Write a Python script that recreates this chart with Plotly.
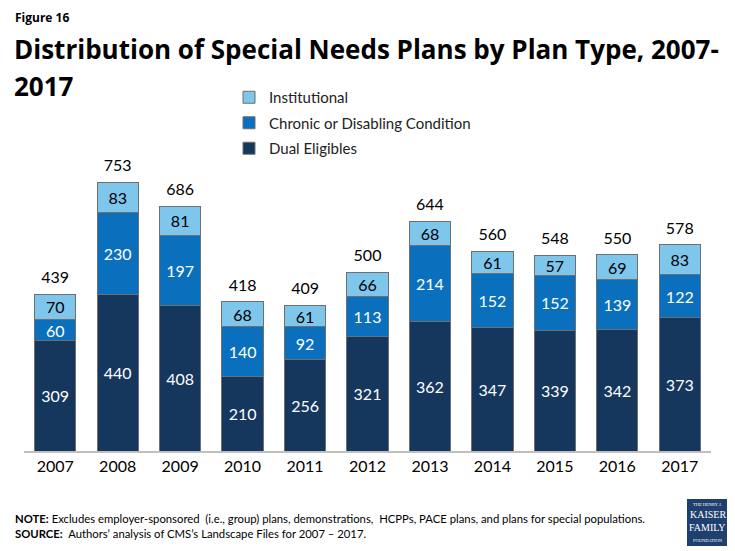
import plotly.graph_objects as go

years = ["2007", "2008", "2009", "2010", "2011", "2012", "2013", "2014", "2015", "2016", "2017"]
dual = [309, 440, 408, 210, 256, 321, 362, 347, 339, 342, 373]
chronic = [60, 230, 197, 140, 92, 113, 214, 152, 152, 139, 122]
institutional = [70, 83, 81, 68, 61, 66, 68, 61, 57, 69, 83]
totals = [439, 753, 686, 418, 409, 500, 644, 560, 548, 550, 578]

FONT = "Lato"
TFONT = "Open Sans"
c_dual = "#15365d"
c_chronic = "#0a70bd"
c_inst = "#7fc6ec"
outline = dict(color="#6f6f6f", width=1)

# page body adds an 8px offset; figure is sized to fit the window
OFF = 8
W, H = 735 - OFF, 551 - OFF
L, R, T, B = 16, 24, 132, 100
PW = W - L - R
PH = H - T - B


def px(x):  # screen pixel -> paper x
    return (x - OFF - L) / PW


def py(y):  # screen pixel -> paper y
    return (H - B - (y - OFF)) / PH


fig = go.Figure()
series = [
    ("Dual Eligibles", dual, c_dual, "white", 3),
    ("Chronic or Disabling Condition", chronic, c_chronic, "white", 2),
    ("Institutional", institutional, c_inst, "black", 1),
]
for i, (name, vals, col, tcol, rank) in enumerate(series):
    fig.add_trace(go.Bar(
        x=years, y=vals, name=name, legendgroup=f"g{i}", legendrank=rank,
        marker=dict(color=col, line=outline),
        text=[str(v) for v in vals], textposition="inside",
        insidetextanchor="middle", textangle=0,
        textfont=dict(family=FONT, size=16, color=tcol),
        hoverinfo="skip",
    ))

fig.add_trace(go.Scatter(
    x=years, y=totals, mode="markers+text", text=[str(t) for t in totals],
    marker=dict(size=10, color="rgba(0,0,0,0)"),
    textposition="top center", textfont=dict(family=FONT, size=16, color="black"),
    showlegend=False, hoverinfo="skip", cliponaxis=False,
))

fig.update_layout(
    width=W, height=H,
    barmode="stack", bargap=0.34,
    uniformtext=dict(minsize=16, mode="show"),
    plot_bgcolor="white", paper_bgcolor="white",
    margin=dict(l=L, r=R, t=T, b=B),
    showlegend=True,
    legend=dict(x=px(229), y=py(81), xanchor="left", yanchor="top",
                traceorder="grouped", tracegroupgap=3,
                font=dict(family=FONT, size=15, color="#222222"),
                itemwidth=30, bgcolor="rgba(0,0,0,0)"),
    xaxis=dict(type="category", range=[-0.5, len(years) - 0.5],
               showline=True, linecolor="#bfbfbf", linewidth=1.5, ticks="",
               tickfont=dict(family=FONT, size=16, color="black"),
               fixedrange=True),
    yaxis=dict(range=[0, 872], visible=False, showgrid=False, fixedrange=True),
)

# Titles
fig.add_annotation(xref="paper", yref="paper", x=px(13), y=py(18),
                   xanchor="left", yanchor="middle", showarrow=False,
                   text="<b>Figure 16</b>", font=dict(family=TFONT, size=12, color="black"))
fig.add_annotation(xref="paper", yref="paper", x=px(12), y=py(49),
                   xanchor="left", yanchor="middle", showarrow=False, align="left",
                   text="<b>Distribution of Special Needs Plans by Plan Type, 2007-</b>",
                   font=dict(family=TFONT, size=26, color="black"))
fig.add_annotation(xref="paper", yref="paper", x=px(12), y=py(86),
                   xanchor="left", yanchor="middle", showarrow=False, align="left",
                   text="<b>2017</b>",
                   font=dict(family=TFONT, size=26, color="black"))

# Footnotes
fig.add_annotation(xref="paper", yref="paper", x=px(13), y=py(518),
                   xanchor="left", yanchor="middle", showarrow=False, align="left",
                   text="<b>NOTE:</b> Excludes employer-sponsored  (i.e., group) plans, demonstrations,  HCPPs, PACE plans, and plans for special populations.",
                   font=dict(family=FONT, size=11.3, color="black"))
fig.add_annotation(xref="paper", yref="paper", x=px(13), y=py(533),
                   xanchor="left", yanchor="middle", showarrow=False, align="left",
                   text="<b>SOURCE:</b>  Authors’ analysis of CMS’s Landscape Files for 2007 – 2017.",
                   font=dict(family=FONT, size=11.3, color="black"))

# Logo
fig.add_shape(type="rect", xref="paper", yref="paper",
              x0=px(687), x1=px(728), y0=py(546), y1=py(499),
              fillcolor="#1f3f6e", line=dict(width=0))
logo_lines = [("THE HENRY J.", 4.5, 504), ("KAISER", 10, 514), ("FAMILY", 10, 527), ("FOUNDATION", 4.5, 540)]
for txt, sz, yy in logo_lines:
    fig.add_annotation(xref="paper", yref="paper", x=px(707.5), y=py(yy),
                       xanchor="center", yanchor="middle", showarrow=False, text=txt,
                       font=dict(family="Liberation Serif", size=sz, color="white"))

fig.write_html("out.html")
